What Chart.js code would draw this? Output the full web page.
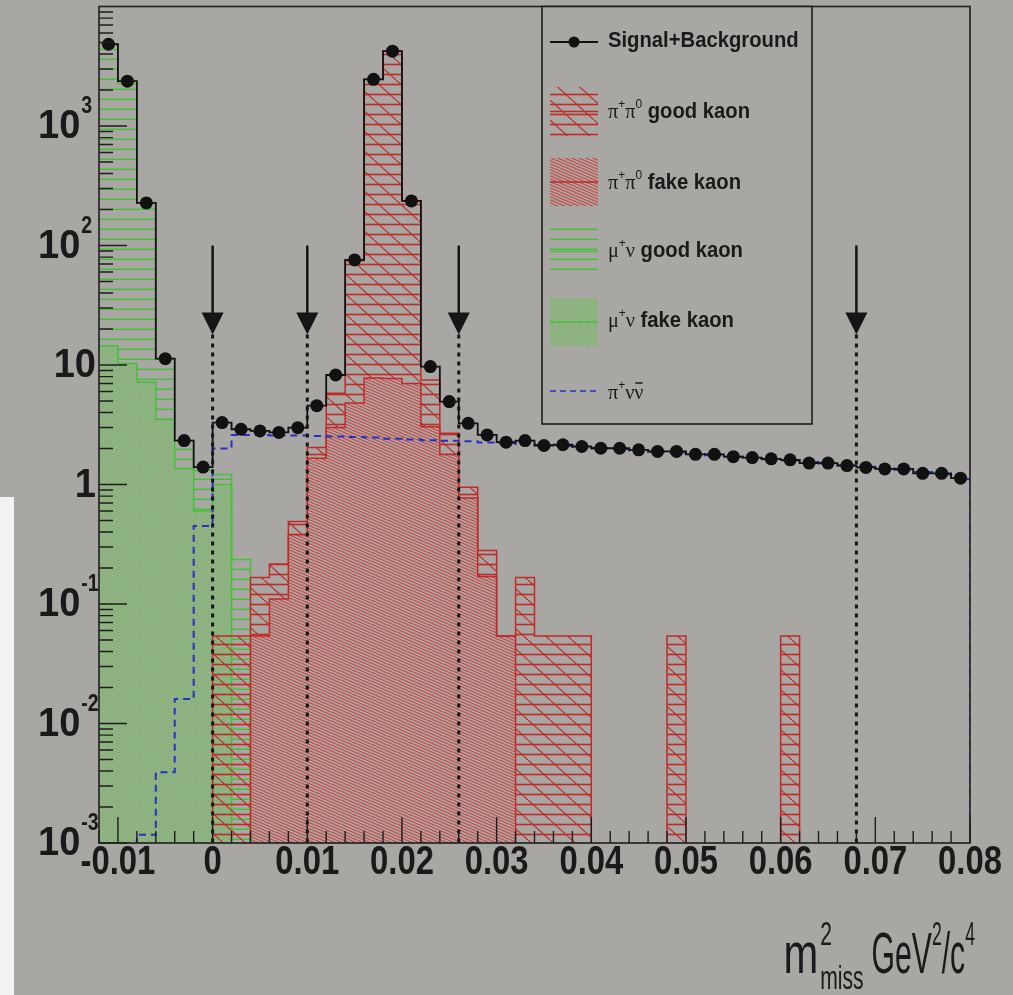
<!DOCTYPE html>
<html>
<head>
<meta charset="utf-8">
<script src="https://cdn.jsdelivr.net/npm/chart.js@4.4.1/dist/chart.umd.min.js"></script>
<style>
  html, body { margin: 0; padding: 0; background: #a8a7a3; }
  #wrap { position: relative; width: 1013px; height: 995px; overflow: hidden; }
  #missChart { position: absolute; left: 0; top: 0; }
  #strip { position: absolute; left: 0; top: 497px; width: 14px; height: 498px; background: #f2f2f2; }
</style>
</head>
<body>
<div id="wrap">
  <canvas id="missChart" width="1013" height="995"></canvas>
  <div id="strip"></div>
</div>
<script>
// binning of m2_miss: 46 bins of 0.002 from -0.012 to 0.080
const xMin = -0.012;
const xMax = 0.08;
const binWidth = 0.002;
const binLowEdges = Array.from({ length: 46 }, (_, i) => +(xMin + binWidth * i).toFixed(3));
const binCenters = binLowEdges.map(e => +(e + binWidth / 2).toFixed(3));

const signalPlusBackground = [4830, 2370, 227, 11.3, 2.33, 1.40, 3.3, 2.9, 2.81, 2.73,
    2.99, 4.57, 8.25, 75.8, 2460, 4230, 236, 9.7, 4.94, 3.25,
    2.6, 2.26, 2.33, 2.12, 2.15, 2.08, 2.01, 2.01, 1.95, 1.89,
    1.89, 1.79, 1.79, 1.71, 1.68, 1.64, 1.61, 1.51, 1.51, 1.44,
    1.39, 1.35, 1.35, 1.24, 1.24, 1.13];

// stacked tops (good kaon sits on top of fake kaon)
const pipiGoodKaon = [0, 0, 0, 0, 0, 0, 0.054, 0.054, 0.167, 0.216,
    0.49, 2.04, 5.8, 74.6, 2460, 4230, 236, 7.5, 2.68, 0.95,
    0.28, 0.054, 0.167, 0.054, 0.054, 0.054, 0, 0, 0, 0,
    0.054, 0, 0, 0, 0, 0, 0.054, 0, 0, 0,
    0, 0, 0, 0, 0, 0];

const pipiFakeKaon = [0, 0, 0, 0, 0, 0, 0, 0, 0.054, 0.11,
    0.38, 1.66, 3.0, 4.8, 7.8, 7.7, 7.0, 3.05, 1.78, 0.77,
    0.17, 0.054, 0, 0, 0, 0, 0, 0, 0, 0,
    0, 0, 0, 0, 0, 0, 0, 0, 0, 0,
    0, 0, 0, 0, 0, 0];

const munuGoodKaon = [4830, 2250, 228, 11.3, 2.33, 1.31, 1.21, 0.236, 0, 0,
    0, 0, 0, 0, 0, 0, 0, 0, 0, 0,
    0, 0, 0, 0, 0, 0, 0, 0, 0, 0,
    0, 0, 0, 0, 0, 0, 0, 0, 0, 0,
    0, 0, 0, 0, 0, 0];

const munuFakeKaon = [14.5, 10.3, 7.2, 3.5, 1.36, 0.6, 1.0, 0, 0, 0,
    0, 0, 0, 0, 0, 0, 0, 0, 0, 0,
    0, 0, 0, 0, 0, 0, 0, 0, 0, 0,
    0, 0, 0, 0, 0, 0, 0, 0, 0, 0,
    0, 0, 0, 0, 0, 0];

const pinunu = [0.0005, 0.0008, 0.00117, 0.0039, 0.016, 0.45, 2.0, 2.6, 2.6, 2.57,
    2.57, 2.55, 2.52, 2.5, 2.47, 2.42, 2.38, 2.35, 2.32, 2.3,
    2.25, 2.21, 2.18, 2.14, 2.1, 2.06, 2.01, 1.98, 1.93, 1.88,
    1.85, 1.8, 1.76, 1.71, 1.67, 1.63, 1.59, 1.54, 1.5, 1.45,
    1.41, 1.37, 1.33, 1.27, 1.21, 1.11];

// signal region cuts (arrows)
const cutValues = [0, 0.01, 0.026, 0.068];

const xTickValues = [-0.01, 0, 0.01, 0.02, 0.03, 0.04, 0.05, 0.06, 0.07, 0.08];
const xTickLabels = ['-0.01', '0', '0.01', '0.02', '0.03', '0.04', '0.05', '0.06', '0.07', '0.08'];
const yTickValues = [1e-3, 1e-2, 1e-1, 1, 10, 100, 1000];
const yTickLabels = [['10', '-3'], ['10', '-2'], ['10', '-1'], ['1', ''], ['10', ''], ['10', '2'], ['10', '3']];

// empty bins sit far below the log axis (log(0) is not drawable)
const EMPTY_BIN = 1e-7;

const GREEN = '#44c236';
const RED = '#c22a28';
const BLUE = '#2b2fc4';
const BG = '#a8a7a3';
const SANS = '"Liberation Sans", Arial, Helvetica, sans-serif';
const SERIF = '"Liberation Serif", "DejaVu Serif", serif';

const makePattern = (w, h, draw) => {
    const c = document.createElement('canvas');
    c.width = w;
    c.height = h;
    const g = c.getContext('2d');
    draw(g, w, h);
    return g.createPattern(c, 'repeat');
};

const diagonal = (g, w, h, color, lw) => {
    g.strokeStyle = color;
    g.lineWidth = lw;
    g.beginPath();
    for (let k = -1; k <= 1; k++) {
        g.moveTo(-w + k * w, -h);
        g.lineTo(2 * w + k * w, 2 * h);
    }
    g.stroke();
};

const horizLines = makePattern(10, 10, (g, w) => {
    g.fillStyle = GREEN;
    g.fillRect(0, 8.6, w, 1.6);
});
const greenDense = makePattern(7, 3, (g, w, h) => diagonal(g, w, h, 'rgba(80,205,50,0.9)', 1));
const redDense = makePattern(7, 3, (g, w, h) => diagonal(g, w, h, 'rgba(215,45,40,0.92)', 1));
const redHatch = makePattern(22, 20, (g, w, h) => {
    g.fillStyle = RED;
    g.fillRect(0, 3.7, w, 1.6);
    g.fillRect(0, 13.7, w, 1.6);
    g.strokeStyle = RED;
    g.lineWidth = 1.1;
    g.beginPath();
    g.moveTo(-1, -1); g.lineTo(w + 1, h + 1);
    g.stroke();
});

const histPoints = values => binLowEdges.map((e, i) => ({ x: e, y: values[i] > 0 ? values[i] : EMPTY_BIN }))
    .concat([{ x: xMax, y: EMPTY_BIN }]);

const histDataset = (label, values, color, fill, fillTarget) => ({
    label,
    data: histPoints(values),
    stepped: true,
    borderColor: color,
    borderWidth: 1.5,
    backgroundColor: fill,
    fill: fill ? fillTarget : false,
    pointRadius: 0,
});

const putText = (ctx, text, x, y, font, sx, color) => {
    ctx.save();
    ctx.font = font;
    ctx.fillStyle = color || '#1a1a1a';
    ctx.translate(x, y);
    ctx.scale(sx, 1);
    ctx.fillText(text, 0, 0);
    ctx.restore();
};
const widthOf = (ctx, text, font, sx) => {
    ctx.font = font;
    return ctx.measureText(text).width * sx;
};
// parts: [text, font, dy]
const putParts = (ctx, parts, x, y, sx) => {
    let cx = x;
    parts.forEach(([t, f, dy]) => {
        putText(ctx, t, cx, y + (dy || 0), f, sx);
        cx += widthOf(ctx, t, f, sx);
    });
    return cx;
};

const rootDecorations = {
    id: 'rootDecorations',
    afterDatasetsDraw(chart) {
        const { ctx, chartArea: a, scales: { x, y } } = chart;
        ctx.save();
        ctx.textBaseline = 'middle';
        ctx.textAlign = 'left';

        // cut arrows with dotted lines
        cutValues.forEach(v => {
            const px = x.getPixelForValue(v);
            const top = y.getPixelForValue(100);
            const tip = y.getPixelForValue(18);
            ctx.strokeStyle = '#151515';
            ctx.fillStyle = '#151515';
            ctx.lineWidth = 2.5;
            ctx.setLineDash([]);
            ctx.beginPath();
            ctx.moveTo(px, top);
            ctx.lineTo(px, tip - 20);
            ctx.stroke();
            ctx.beginPath();
            ctx.moveTo(px - 11, tip - 22);
            ctx.lineTo(px + 11, tip - 22);
            ctx.lineTo(px, tip);
            ctx.closePath();
            ctx.fill();
            ctx.lineWidth = 3;
            ctx.setLineDash([4, 5]);
            ctx.beginPath();
            ctx.moveTo(px, tip);
            ctx.lineTo(px, a.bottom);
            ctx.stroke();
        });
        ctx.setLineDash([]);

        // frame
        ctx.strokeStyle = '#1e1e1e';
        ctx.lineWidth = 1.6;
        ctx.strokeRect(a.left, a.top, a.right - a.left, a.bottom - a.top);

        // x ticks (inside)
        ctx.lineWidth = 1.4;
        ctx.beginPath();
        binLowEdges.concat([xMax]).forEach(v => {
            const px = x.getPixelForValue(v);
            const major = Math.abs(Math.round(v * 100) - v * 100) < 1e-6;
            ctx.moveTo(px, a.bottom);
            ctx.lineTo(px, a.bottom - (major ? 26 : 12));
        });
        // y ticks (inside)
        for (let d = -3; d <= 3; d++) {
            for (let m = 1; m <= 9; m++) {
                const v = m * Math.pow(10, d);
                const py = y.getPixelForValue(v);
                ctx.moveTo(a.left, py);
                ctx.lineTo(a.left + (m === 1 ? 28 : 14), py);
            }
        }
        ctx.stroke();

        // tick labels
        const tickFont = `bold 40px ${SANS}`;
        const expFont = `bold 23px ${SANS}`;
        xTickValues.forEach((v, i) => {
            const w = widthOf(ctx, xTickLabels[i], tickFont, 0.82);
            putText(ctx, xTickLabels[i], x.getPixelForValue(v) - w / 2, a.bottom + 20, tickFont, 0.82);
        });
        yTickValues.forEach((v, i) => {
            const [base, exp] = yTickLabels[i];
            const py = y.getPixelForValue(v);
            const wb = widthOf(ctx, base, tickFont, 0.95);
            if (exp) {
                putText(ctx, base, 38, py + 1, tickFont, 0.95);
                putText(ctx, exp, 38 + wb + 1, py - 19, expFont, 0.85);
            } else {
                putText(ctx, base, 96 - wb, py + 1, tickFont, 0.95);
            }
        });

        // axis title
        const tf = `58px ${SANS}`;
        const sf = `34px ${SANS}`;
        const sx = 0.52;
        const by = 957;
        const parts = [['GeV', tf], ['2', sf, -21], ['/c', tf], ['4', sf, -21]];
        const total = parts.reduce((s, p) => s + widthOf(ctx, p[0], p[1], sx), 0);
        const gevStart = 975 - total;
        putParts(ctx, parts, gevStart, by, sx);
        const subW = widthOf(ctx, 'miss', sf, 0.62);
        const mW = widthOf(ctx, 'm', tf, 0.72);
        const mStart = gevStart - 10 - subW - mW;
        putText(ctx, 'm', mStart, by, tf, 0.72);
        putText(ctx, '2', mStart + mW + 2, by - 21, sf, 0.62);
        putText(ctx, 'miss', mStart + mW + 2, by + 23, sf, 0.62);

        // legend
        const L = { left: 542, top: a.top, right: 812, bottom: 424 };
        ctx.fillStyle = BG;
        ctx.fillRect(L.left, L.top, L.right - L.left, L.bottom - L.top);
        ctx.strokeStyle = '#1e1e1e';
        ctx.lineWidth = 1.6;
        ctx.strokeRect(L.left, L.top, L.right - L.left, L.bottom - L.top);

        const sw = { l: 550, r: 598 };
        const lf = `bold 22px ${SANS}`;
        const gf = `22px ${SERIF}`;
        const supf = `13px ${SANS}`;
        const tx = 608;

        // Signal+Background
        ctx.strokeStyle = '#111';
        ctx.lineWidth = 1.8;
        ctx.beginPath(); ctx.moveTo(sw.l, 42); ctx.lineTo(sw.r, 42); ctx.stroke();
        ctx.fillStyle = '#111';
        ctx.beginPath(); ctx.arc(574, 42, 5.5, 0, Math.PI * 2); ctx.fill();
        putText(ctx, 'Signal+Background', tx, 41, lf, 0.92);

        const swatch = (y0, y1, fill, color) => {
            ctx.fillStyle = fill;
            ctx.fillRect(sw.l, y0, sw.r - sw.l, y1 - y0);
            ctx.strokeStyle = color;
            ctx.lineWidth = 1.5;
            ctx.beginPath(); ctx.moveTo(sw.l, (y0 + y1) / 2); ctx.lineTo(sw.r, (y0 + y1) / 2); ctx.stroke();
        };
        swatch(87, 136, redHatch, RED);
        swatch(158, 206, redDense, RED);
        swatch(228, 275, horizLines, GREEN);
        swatch(298, 346, greenDense, GREEN);

        putParts(ctx, [['π', gf], ['+', supf, -8], ['π', gf], ['0', supf, -8], [' good kaon', lf]], tx, 112, 0.92);
        putParts(ctx, [['π', gf], ['+', supf, -8], ['π', gf], ['0', supf, -8], [' fake kaon', lf]], tx, 183, 0.92);
        putParts(ctx, [['μ', gf], ['+', supf, -8], ['ν', gf], [' good kaon', lf]], tx, 251, 0.92);
        putParts(ctx, [['μ', gf], ['+', supf, -8], ['ν', gf], [' fake kaon', lf]], tx, 321, 0.92);

        ctx.strokeStyle = BLUE;
        ctx.lineWidth = 1.6;
        ctx.setLineDash([6, 4]);
        ctx.beginPath(); ctx.moveTo(sw.l, 391); ctx.lineTo(sw.r, 391); ctx.stroke();
        ctx.setLineDash([]);
        const endX = putParts(ctx, [['π', gf], ['+', supf, -8], ['ν', gf]], tx, 393, 0.92);
        const nuW = widthOf(ctx, 'ν', gf, 0.92);
        putText(ctx, 'ν', endX, 393, gf, 0.92);
        ctx.strokeStyle = '#1a1a1a';
        ctx.lineWidth = 1.5;
        ctx.beginPath(); ctx.moveTo(endX + 1, 383); ctx.lineTo(endX + nuW - 1, 383); ctx.stroke();

        ctx.restore();
    }
};

new Chart(document.getElementById('missChart'), {
    type: 'line',
    data: {
        datasets: [
            {
                label: 'Signal+Background',
                data: binCenters.map((c, i) => ({ x: c, y: signalPlusBackground[i] })),
                stepped: 'middle',
                borderColor: '#111',
                borderWidth: 1.8,
                pointRadius: 6.5,
                pointBackgroundColor: '#111',
                pointBorderWidth: 0,
                fill: false,
            },
            Object.assign(histDataset('π+νν̄', pinunu, BLUE, null), { borderDash: [7, 5], borderWidth: 2 }),
            histDataset('π+π0 fake kaon', pipiFakeKaon, RED, redDense, 'start'),
            histDataset('π+π0 good kaon', pipiGoodKaon, RED, redHatch, 2),
            histDataset('μ+ν fake kaon', munuFakeKaon, GREEN, greenDense, 'start'),
            histDataset('μ+ν good kaon', munuGoodKaon, GREEN, horizLines, 4),
        ]
    },
    options: {
        responsive: false,
        animation: false,
        layout: { padding: { left: 99, right: 43, top: 6, bottom: 152 } },
        plugins: { legend: { display: false }, tooltip: { enabled: false } },
        scales: {
            x: { type: 'linear', min: xMin, max: xMax, display: false },
            y: { type: 'logarithmic', min: 0.001, max: 10000, display: false },
        },
    },
    plugins: [rootDecorations],
});
</script>
</body>
</html>
